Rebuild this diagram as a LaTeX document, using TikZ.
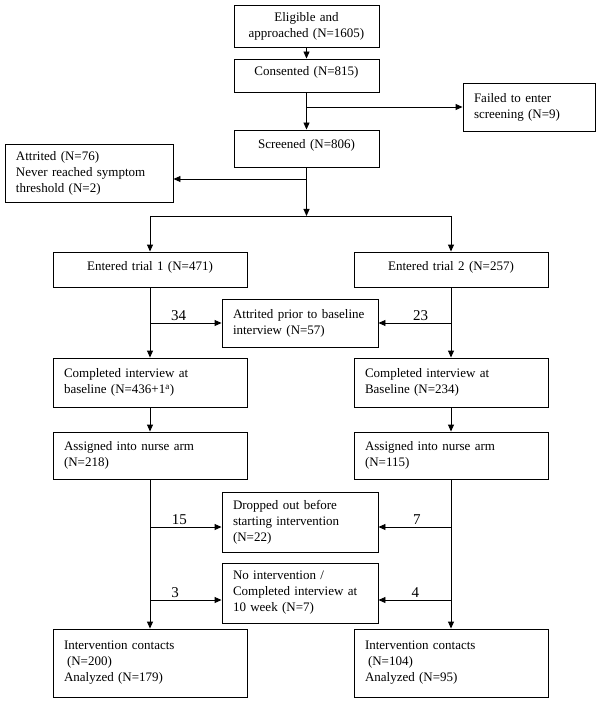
\documentclass[tikz,border=0pt]{standalone}
\usepackage{fontspec}
\setmainfont{Liberation Serif}
\usetikzlibrary{arrows.meta}

\begin{document}
\begin{tikzpicture}[x=1pt, y=-1pt,
        % Style for the boxes
        flowbox/.style={draw, rectangle, line width=0.9pt, inner xsep=11pt, inner ysep=0pt, font=\fontsize{13pt}{16pt}\selectfont},
        main box/.style={flowbox, text width=123pt, align=center},
        side box/.style={flowbox, text width=134pt, align=left},
        arm box/.style={flowbox, text width=172pt, align=left},
        trial box/.style={arm box, align=center},
        % Style for the counts and the connectors
        count label/.style={above, inner sep=2pt, font=\fontsize{15pt}{18pt}\selectfont},
        arrow/.style={-{Triangle[length=7pt, width=6pt]}, line width=0.9pt},
        link/.style={line width=0.9pt}
    ]
    \useasboundingbox (0,0) rectangle (601,703);

    % Screening nodes
    \node[main box, minimum height=42pt] at (306.5, 26) (eligible) {Eligible and\\approached (N=1605)};
    \node[main box, minimum height=33pt, text depth=9pt] at (306.5, 75.5) (consented) {Consented (N=815)};
    \node[main box, minimum height=37pt, text depth=9pt] at (306.5, 148.5) (screened) {Screened (N=806)};
    \node[side box, text width=110pt, minimum height=48pt] at (529, 107) (failed) {Failed to enter\\screening (N=9)};
    \node[side box, text width=146pt, minimum height=58pt] at (89, 173) (attrited) {Attrited (N=76)\\Never reached symptom\\threshold (N=2)};
    \coordinate (split) at (306.5, 216);

    % Trial 1 nodes
    \node[trial box, minimum height=35pt, text depth=8pt] at (150, 269.5) (trial1) {Entered trial 1 (N=471)};
    \node[arm box, minimum height=49pt] at (150, 382.5) (complete1) {Completed interview at\\baseline (N=436+1\textsuperscript{a})};
    \node[arm box, minimum height=47pt] at (150, 455.5) (nurse1) {Assigned into nurse arm\\(N=218)};
    \node[arm box, minimum height=68pt] at (150, 663) (contact1) {Intervention contacts\\\hspace*{3pt}(N=200)\\Analyzed (N=179)};

    % Trial 2 nodes
    \node[trial box, minimum height=35pt, text depth=8pt] at (451, 269.5) (trial2) {Entered trial 2 (N=257)};
    \node[arm box, minimum height=49pt] at (451, 382.5) (complete2) {Completed interview at\\Baseline (N=234)};
    \node[arm box, minimum height=47pt] at (451, 455.5) (nurse2) {Assigned into nurse arm\\(N=115)};
    \node[arm box, minimum height=68pt] at (451, 663) (contact2) {Intervention contacts\\\hspace*{3pt}(N=104)\\Analyzed (N=95)};

    % Drop-out nodes between the trials
    \node[side box, minimum height=48pt] at (300, 323) (attprior) {Attrited prior to baseline\\interview (N=57)};
    \node[side box, minimum height=60pt] at (300, 522) (dropped) {Dropped out before\\starting intervention\\(N=22)};
    \node[side box, minimum height=60pt] at (300, 593) (nointerv) {No intervention /\\Completed interview at\\10 week (N=7)};

    % Drawing arrows for screening
    \draw[arrow] (eligible) -- (consented);
    \draw[arrow] (consented) -- (screened);
    \draw[arrow] (consented.south |- failed.west) -- (failed);
    \draw[arrow] ([yshift=-6pt]screened.south |- attrited.east) -- ([yshift=-6pt]attrited.east);
    \draw[arrow] (screened) -- (split);
    \draw[link] (trial1.north |- split) -- (trial2.north |- split);
    \draw[arrow] (trial1.north |- split) -- (trial1);
    \draw[arrow] (trial2.north |- split) -- (trial2);

    % Drawing arrows down each trial
    \draw[arrow] (trial1) -- (complete1);
    \draw[arrow] (complete1) -- (nurse1);
    \draw[arrow] (nurse1) -- (contact1);
    \draw[arrow] (trial2) -- (complete2);
    \draw[arrow] (complete2) -- (nurse2);
    \draw[arrow] (nurse2) -- (contact2);

    % Drawing arrows to the drop-out nodes
    \draw[arrow] (trial1.south |- attprior.west) -- node[count label, pos=0.4] (n34) {34} (attprior);
    \draw[arrow] (trial2.south |- attprior.east) -- node[count label, pos=0.42] (n23) {23} (attprior);
    \draw[arrow] ([yshift=-5pt]nurse1.south |- dropped.west) -- node[count label, pos=0.41] (n15) {15} ([yshift=-5pt]dropped.west);
    \draw[arrow] ([yshift=-5pt]nurse2.south |- dropped.east) -- node[count label, pos=0.47] (n7) {7} ([yshift=-5pt]dropped.east);
    \draw[arrow] ([yshift=-7pt]nurse1.south |- nointerv.west) -- node[count label, pos=0.35] (n3) {3} ([yshift=-7pt]nointerv.west);
    \draw[arrow] ([yshift=-7pt]nurse2.south |- nointerv.east) -- node[count label, pos=0.49] (n4) {4} ([yshift=-7pt]nointerv.east);
\end{tikzpicture}
\end{document}
